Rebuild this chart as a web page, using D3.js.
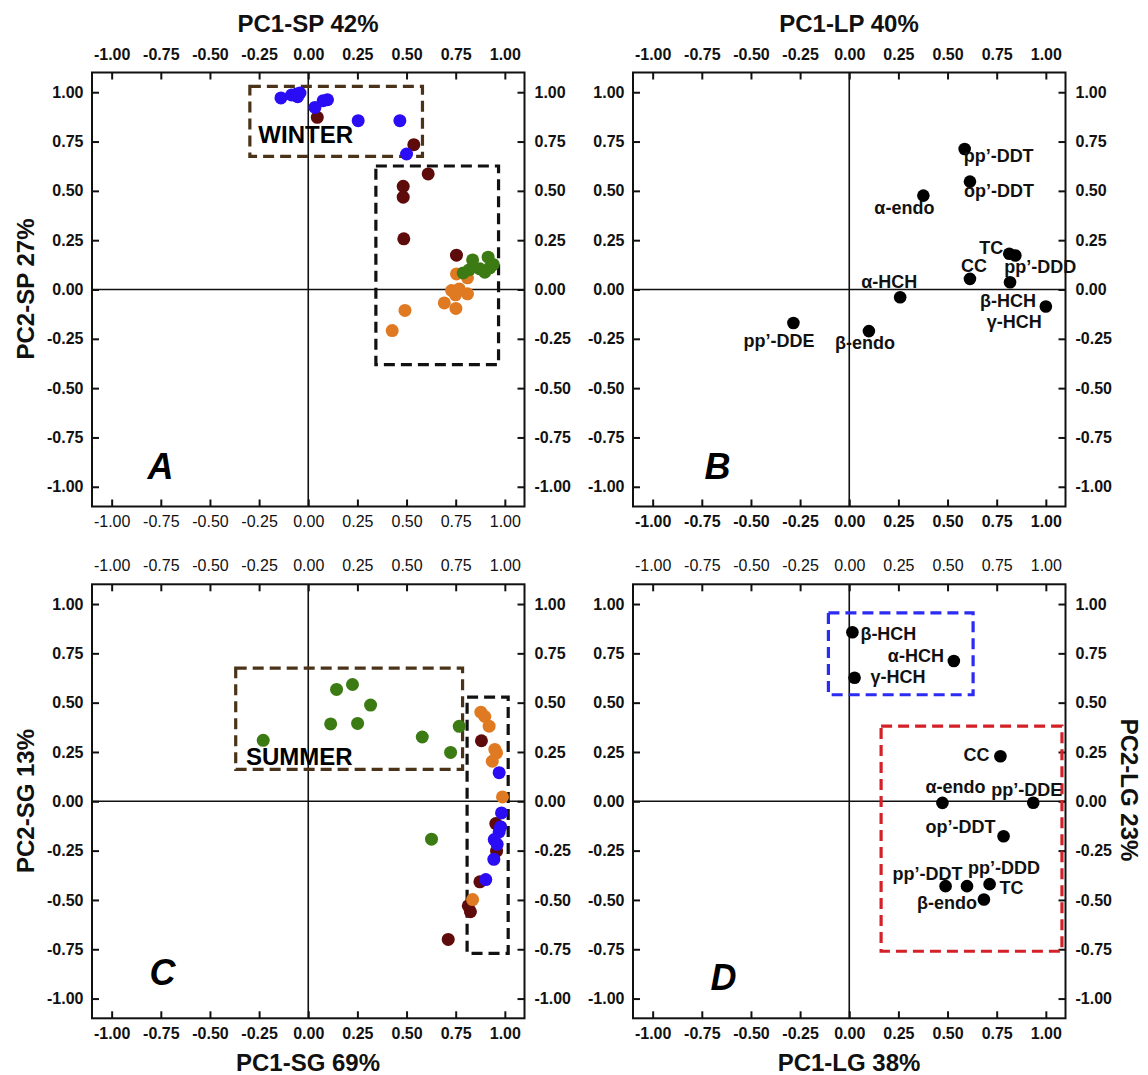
<!DOCTYPE html>
<html>
<head>
<meta charset="utf-8">
<script src="https://cdn.jsdelivr.net/npm/d3@7"></script>
<style>
  body { margin: 0; background: #fff; }
  svg { font-family: "Liberation Sans", Arial, sans-serif; }
</style>
</head>
<body>
<svg id="chart" width="1148" height="1075"></svg>
<script>
// ---- data ----
var tickValues = [-1, -0.75, -0.5, -0.25, 0, 0.25, 0.5, 0.75, 1]

// panel A : winter particulate, scores
var aBlue = [[-0.139, 0.971], [-0.085, 0.986], [-0.059, 0.991], [-0.042, 0.996], [-0.054, 0.977], [0.034, 0.923], [0.076, 0.957], [0.098, 0.962], [0.254, 0.856], [0.466, 0.856], [0.5, 0.687]]
var aMaroon = [[0.046, 0.873], [0.537, 0.734], [0.61, 0.586], [0.483, 0.523], [0.483, 0.468], [0.486, 0.257], [0.754, 0.174]]
var aOrange = [[0.754, 0.079], [0.81, 0.059], [0.729, -0.005], [0.768, 0.003], [0.749, -0.027], [0.81, -0.022], [0.692, -0.068], [0.751, -0.096], [0.492, -0.106], [0.427, -0.208]]
var aGreen = [[0.788, 0.084], [0.819, 0.1], [0.836, 0.15], [0.873, 0.105], [0.898, 0.088], [0.915, 0.164], [0.924, 0.11], [0.941, 0.127]]

// panel C : summer gas, scores
var cGreen = [[-0.229, 0.309], [0.114, 0.392], [0.144, 0.567], [0.225, 0.592], [0.251, 0.395], [0.317, 0.488], [0.58, 0.326], [0.724, 0.248], [0.768, 0.38], [0.627, -0.192]]
var cMaroon = [[0.881, 0.307], [0.954, -0.113], [0.978, -0.13], [0.958, -0.253], [0.873, -0.408], [0.814, -0.53], [0.825, -0.56], [0.712, -0.7]]
var cOrange = [[0.878, 0.452], [0.898, 0.43], [0.92, 0.381], [0.949, 0.263], [0.958, 0.245], [0.936, 0.203], [0.988, 0.022], [0.836, -0.498]]
var cBlue = [[0.971, 0.145], [0.983, -0.059], [0.978, -0.13], [0.971, -0.155], [0.946, -0.194], [0.961, -0.218], [0.944, -0.294], [0.903, -0.397]]

// panel B : loadings
var bNames = ['pp’-DDT', 'op’-DDT', 'α-endo', 'TC', 'pp’-DDD', 'CC', 'β-HCH', 'γ-HCH', 'α-HCH', 'β-endo', 'pp’-DDE']
var bX = [0.587, 0.614, 0.377, 0.814, 0.845, 0.614, 0.818, 1.0, 0.259, 0.1, -0.284]
var bY = [0.712, 0.547, 0.476, 0.181, 0.172, 0.054, 0.037, -0.086, -0.039, -0.211, -0.17]

// panel D : loadings
var dNames = ['β-HCH', 'α-HCH', 'γ-HCH', 'CC', 'α-endo', 'pp’-DDE', 'op’-DDT', 'pp’-DDT', 'pp’-DDD', 'TC', 'β-endo']
var dX = [0.016, 0.532, 0.027, 0.769, 0.474, 0.936, 0.785, 0.49, 0.599, 0.714, 0.685]
var dY = [0.857, 0.711, 0.626, 0.228, -0.008, -0.007, -0.177, -0.43, -0.43, -0.42, -0.498]

// dashed group boxes [x0, y0, x1, y1]
var boxWinter = [-0.297, 1.03, 0.581, 0.675]
var boxA = [0.344, 0.626, 0.968, -0.381]
var boxSummer = [-0.369, 0.675, 0.785, 0.162]
var boxC = [0.808, 0.528, 1.017, -0.771]
var boxDblue = [-0.106, 0.955, 0.63, 0.54]
var boxDred = [0.162, 0.381, 1.082, -0.76]

// ---- layout ----
var W = 432.5, H = 434
var svg = d3.select('#chart')
var fmt = d3.formatLocale({decimal: '.', thousands: ',', grouping: [3], currency: ['', ''], minus: '-'}).format('.2f')

var colBlue = '#2a0cf5', colMaroon = '#5e0b0b', colOrange = '#e07a22', colGreen = '#3c7a14'

function makePanel (x0, y0, weights) {
  var g = svg.append('g').attr('transform', 'translate(' + x0 + ',' + y0 + ')')
  var x = d3.scaleLinear().domain([-1.1, 1.1]).range([0, W])
  var y = d3.scaleLinear().domain([-1.1, 1.1]).range([H, 0])

  var axes = [
    [d3.axisTop(x), 0, 0, 13, weights[0]],
    [d3.axisBottom(x), 0, H, 9.5, weights[1]],
    [d3.axisLeft(y), 0, 0, 8.5, weights[2]],
    [d3.axisRight(y), W, 0, 10, weights[3]]
  ]
  axes.forEach(function (a) {
    var ax = g.append('g').attr('transform', 'translate(' + a[1] + ',' + a[2] + ')')
      .call(a[0].tickValues(tickValues).tickFormat(fmt).tickSizeInner(-7).tickSizeOuter(0).tickPadding(a[3]))
    ax.select('.domain').remove()
    ax.selectAll('line').attr('stroke', '#111').attr('stroke-width', 2)
    ax.selectAll('text').attr('fill', '#111').style('font-size', '16px').style('font-weight', a[4])
    ax.attr('font-family', null)
  })

  // zero lines
  g.append('line').attr('x1', x(0)).attr('x2', x(0)).attr('y1', 0).attr('y2', H).attr('stroke', '#111').attr('stroke-width', 1.6)
  g.append('line').attr('x1', 0).attr('x2', W).attr('y1', y(0)).attr('y2', y(0)).attr('stroke', '#111').attr('stroke-width', 1.6)

  // frame
  g.append('rect').attr('x', 0).attr('y', 0).attr('width', W).attr('height', H)
    .attr('fill', 'none').attr('stroke', '#111').attr('stroke-width', 2)

  return {g: g, x: x, y: y}
}

function box (p, b, color) {
  p.g.append('rect')
    .attr('x', p.x(b[0])).attr('y', p.y(b[1]))
    .attr('width', p.x(b[2]) - p.x(b[0])).attr('height', p.y(b[3]) - p.y(b[1]))
    .attr('fill', 'none').attr('stroke', color).attr('stroke-width', 3.2).attr('stroke-dasharray', '11,6')
}

function dots (p, data, color) {
  p.g.selectAll(null).data(data).enter().append('circle')
    .attr('cx', function (d) { return p.x(d[0]) })
    .attr('cy', function (d) { return p.y(d[1]) })
    .attr('r', 6.5).attr('fill', color)
}

function letter (p, t, lx, ly) {
  p.g.append('text').attr('x', p.x(lx)).attr('y', p.y(ly)).attr('text-anchor', 'middle')
    .style('font-size', '36px').style('font-weight', 'bold').style('font-style', 'italic').text(t)
}

function loadings (p, names, xs, ys, offsets) {
  names.forEach(function (n, i) {
    p.g.append('circle').attr('cx', p.x(xs[i])).attr('cy', p.y(ys[i])).attr('r', 6.3).attr('fill', '#000')
    var o = offsets[n]
    p.g.append('text').attr('x', p.x(xs[i]) + o[0]).attr('y', p.y(ys[i]) + o[1])
      .style('font-size', '18px').style('font-weight', 'bold').attr('fill', '#111').text(n)
  })
}

// label offsets (px from the dot, start anchored)
var offB = {
  'pp’-DDT': [-1, 13], 'op’-DDT': [-6, 15], 'α-endo': [-49, 18], 'TC': [-30, 0], 'pp’-DDD': [-11, 17],
  'CC': [-9, -7], 'β-HCH': [-30, 25], 'γ-HCH': [-59, 22], 'α-HCH': [-39, -9], 'β-endo': [-34, 18], 'pp’-DDE': [-50, 24]
}
var offD = {
  'β-HCH': [8, 8], 'α-HCH': [-66, 1], 'γ-HCH': [16, 5], 'CC': [-37, 5], 'α-endo': [-17, -10], 'pp’-DDE': [-42, -7],
  'op’-DDT': [-78, -3], 'pp’-DDT': [-53, -6], 'pp’-DDD': [1, -12], 'TC': [10, 10], 'β-endo': [-67, 9]
}

// ---- panel A ----
var pA = makePanel(92, 72.5, ['bold', 'normal', 'bold', 'bold'])
box(pA, boxWinter, '#4a3318')
box(pA, boxA, '#111')
pA.g.append('text').attr('x', pA.x(-0.254)).attr('y', pA.y(0.741))
  .style('font-size', '24px').style('font-weight', 'bold').text('WINTER')
dots(pA, aMaroon, colMaroon)
dots(pA, aOrange, colOrange)
dots(pA, aGreen, colGreen)
dots(pA, aBlue, colBlue)
letter(pA, 'A', -0.751, -0.959)

// ---- panel B ----
var pB = makePanel(633, 72.5, ['bold', 'bold', 'bold', 'bold'])
loadings(pB, bNames, bX, bY, offB)
letter(pB, 'B', -0.67, -0.959)

// ---- panel C ----
var pC = makePanel(92, 584.3, ['normal', 'bold', 'bold', 'bold'])
box(pC, boxSummer, '#4a3318')
box(pC, boxC, '#111')
pC.g.append('text').attr('x', pC.x(-0.317)).attr('y', pC.y(0.186))
  .style('font-size', '24px').style('font-weight', 'bold').text('SUMMER')
dots(pC, cGreen, colGreen)
dots(pC, cMaroon, colMaroon)
dots(pC, cOrange, colOrange)
dots(pC, cBlue, colBlue)
letter(pC, 'C', -0.741, -0.932)

// ---- panel D ----
var pD = makePanel(633, 584.3, ['normal', 'bold', 'bold', 'bold'])
box(pD, boxDblue, '#2b2bf2')
box(pD, boxDred, '#d42027')
loadings(pD, dNames, dX, dY, offD)
letter(pD, 'D', -0.64, -0.957)

// ---- axis titles ----
function title (t, tx, ty, rot) {
  svg.append('text').attr('transform', 'translate(' + tx + ',' + ty + ') rotate(' + rot + ')')
    .attr('text-anchor', 'middle').style('font-size', '24px').style('font-weight', 'bold').attr('fill', '#111').text(t)
}
title('PC1-SP 42%', 308, 32, 0)
title('PC1-LP 40%', 849, 32, 0)
title('PC1-SG 69%', 308, 1071, 0)
title('PC1-LG 38%', 849, 1071, 0)
title('PC2-SP 27%', 34, 289, -90)
title('PC2-SG 13%', 34, 801, -90)
title('PC2-LG 23%', 1121, 790, 90)
</script>
</body>
</html>
